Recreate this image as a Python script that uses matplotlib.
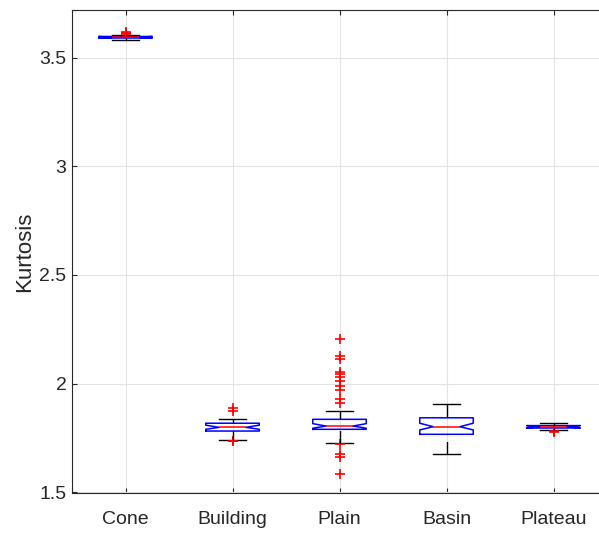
import matplotlib.pyplot as plt

# kurtosis summary per terrain class
terrain = ['Cone', 'Building', 'Plain', 'Basin', 'Plateau']
whislo = [3.585, 1.738, 1.724, 1.677, 1.786]
q1 = [3.592, 1.781, 1.789, 1.766, 1.795]
med = [3.595, 1.798, 1.804, 1.801, 1.801]
q3 = [3.599, 1.817, 1.835, 1.842, 1.806]
whishi = [3.608, 1.838, 1.873, 1.904, 1.817]
cilo = [3.592, 1.789, 1.794, 1.786, 1.795]
cihi = [3.599, 1.808, 1.815, 1.817, 1.806]
outliers = [
    [3.611, 3.615, 3.619],
    [1.733, 1.737, 1.874, 1.886],
    [1.583, 1.663, 1.674, 1.720, 1.912, 1.930, 1.970, 1.990, 2.011,
     2.028, 2.042, 2.055, 2.113, 2.127, 2.205],
    [],
    [1.778, 1.781],
]

plt.rcParams['font.family'] = ['Liberation Sans', 'DejaVu Sans']

fig = plt.figure(figsize=(5.99, 5.34), dpi=100)
ax = fig.add_axes([72 / 599, 41 / 534, 535 / 599, 483 / 534])

stats = []
for i in range(len(terrain)):
    stats.append(dict(label=terrain[i], whislo=whislo[i], q1=q1[i], med=med[i],
                      q3=q3[i], whishi=whishi[i], cilo=cilo[i], cihi=cihi[i],
                      fliers=outliers[i]))

pos = list(range(1, len(terrain) + 1))
ax.bxp(stats, positions=pos, widths=0.5, shownotches=True, showcaps=True,
       boxprops=dict(color='blue', linewidth=1.1),
       medianprops=dict(color='red', linewidth=1.1),
       capprops=dict(color='black', linewidth=1.0),
       whiskerprops=dict(linestyle='none'),
       flierprops=dict(marker='+', markeredgecolor='red', markersize=7.5,
                       markeredgewidth=1.2, linestyle='none'))

# dashed whiskers drawn from the whisker end toward the box
for i, p in enumerate(pos):
    ax.plot([p, p], [whishi[i], q3[i]], color='black', lw=1.0,
            linestyle=(0, (9, 5)))
    ax.plot([p, p], [whislo[i], q1[i]], color='black', lw=1.0,
            linestyle=(0, (9, 5)))

ax.set_xlim(0.5, 5.5)
ax.set_ylim(1.4955, 3.721)
ax.set_yticks([1.5, 2, 2.5, 3, 3.5])
ax.set_yticklabels(['1.5', '2', '2.5', '3', '3.5'])
ax.set_xticks(pos)
ax.set_xticklabels(terrain)

ax.set_axisbelow(True)
ax.grid(True, color='#e3e3e3', linewidth=0.8)
ax.tick_params(direction='in', length=3.5, width=0.8, colors='#262626',
               labelsize=14, top=True, right=True)
ax.tick_params(axis='y', pad=4)
ax.tick_params(axis='x', pad=13)
for s in ax.spines.values():
    s.set_color('#262626')
    s.set_linewidth(0.8)
ax.spines['right'].set_visible(False)

ax.set_ylabel('Kurtosis', fontsize=16, color='#262626', labelpad=3)

fig.savefig('out.png', dpi=100)
